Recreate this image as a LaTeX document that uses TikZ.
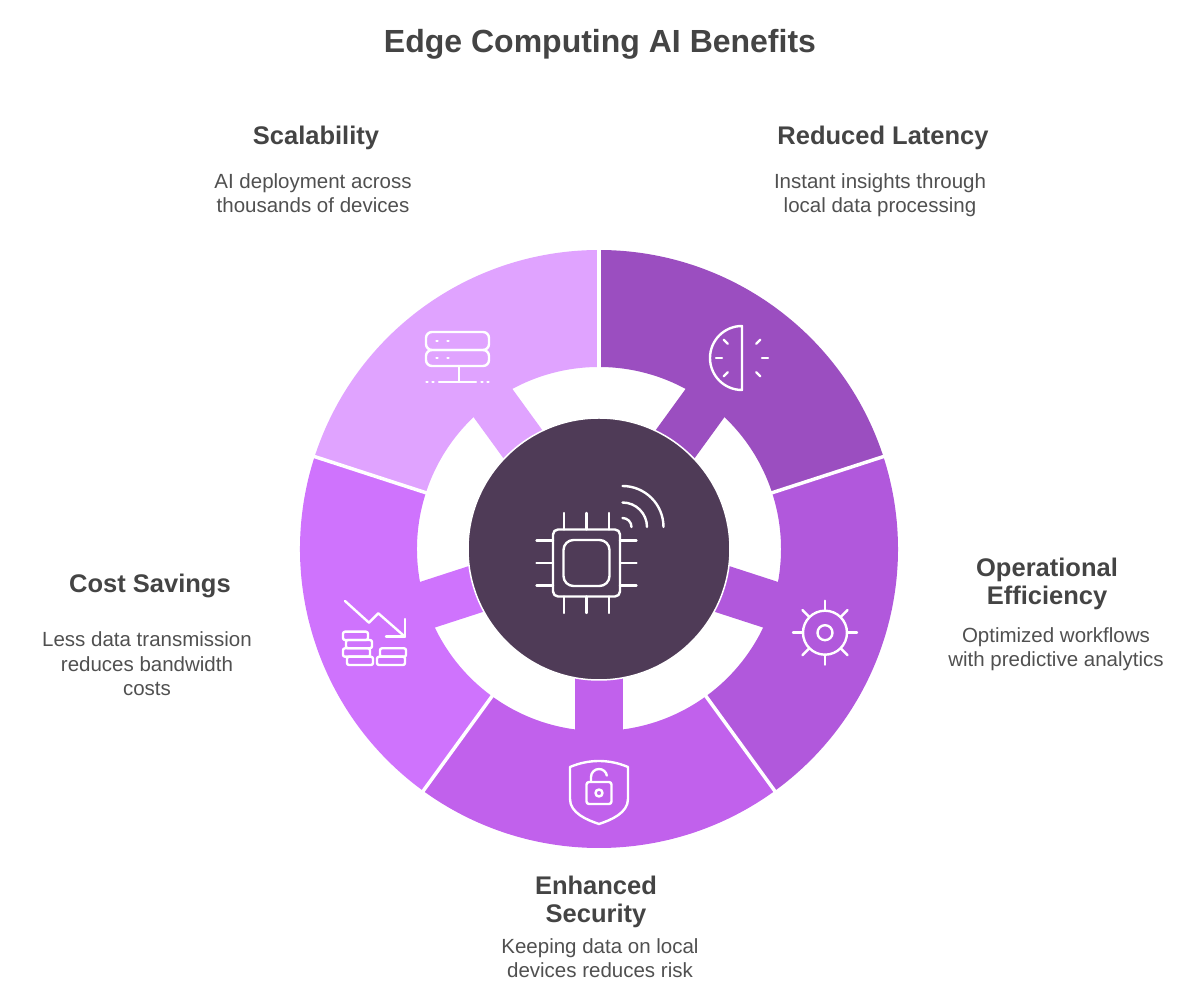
\documentclass[tikz,border=0pt]{standalone}
\usepackage{fontspec}
\setmainfont{Liberation Sans}
\usetikzlibrary{positioning}

\definecolor{latency}{HTML}{9B4EC0}
\definecolor{operation}{HTML}{B158DC}
\definecolor{security}{HTML}{C161EC}
\definecolor{savings}{HTML}{CF73FD}
\definecolor{scalab}{HTML}{E0A3FF}
\definecolor{core}{HTML}{4F3B57}
\definecolor{ink}{HTML}{444444}
\definecolor{inklight}{HTML}{505050}

\begin{document}
\begin{tikzpicture}[x=1pt,y=1pt,
  maintitle/.style={font=\bfseries\fontsize{32}{38}\selectfont, text=ink, inner sep=0pt, anchor=base},
  benefit/.style={font=\bfseries\fontsize{25.5}{28.5}\selectfont, text=ink, align=center, inner sep=0pt, anchor=base},
  blurb/.style={font=\fontsize{20.5}{24.5}\selectfont, text=inklight, align=center, inner sep=0pt, anchor=base},
  icon/.style={draw=white, line width=2.4pt, line cap=round, line join=round},
  divider/.style={draw=white, line width=3.5pt}]

  \useasboundingbox (-599,-451) rectangle (601,549);

% define the ring segments and their tabs
  \foreach \a/\c in {18/latency, -54/operation, -126/security, 162/savings, 90/scalab} {
    \fill[\c] (\a:182pt) arc[start angle=\a, end angle=\a+72, radius=182pt]
      -- (\a+72:299pt) arc[start angle=\a+72, end angle=\a, radius=299pt] -- cycle;
    \fill[\c, rotate=\a+36] (120,-24) rectangle (184,24);
  }
  \foreach \a in {18,-54,-126,162,90}
    \draw[divider] (\a:180pt) -- (\a:301pt);

% define the hub
  \node[circle, fill=core, draw=white, line width=1.5pt, minimum size=262pt, inner sep=0pt] (hub) at (0,0) {};

% chip with signal
  \begin{scope}[shift={(-12.5,-14)}]
    \draw[icon, rounded corners=5pt] (-33.5,-33.5) rectangle (33.5,33.5);
    \draw[icon, rounded corners=10pt] (-23,-23) rectangle (23,23);
    \foreach \p in {-22.5,0,22.5} {
      \draw[icon] (\p,33.5) -- (\p,50);
      \draw[icon] (\p,-33.5) -- (\p,-50);
      \draw[icon] (-33.5,\p) -- (-50,\p);
      \draw[icon] (33.5,\p) -- (50,\p);
    }
  \end{scope}
  \foreach \r in {9,24.5,41}
    \draw[icon] (23.5,22+\r) arc[start angle=90, end angle=0, radius=\r pt];

% server rack
  \draw[icon, rounded corners=6pt] (-173,199) rectangle (-110,217);
  \draw[icon, rounded corners=6pt] (-173,183) rectangle (-110,199);
  \foreach \x in {-162,-151} {
    \draw[icon] (\x-0.6,208) -- (\x+0.6,208);
    \draw[icon] (\x-0.6,191) -- (\x+0.6,191);
  }
  \draw[icon] (-140,183) -- (-140,167);
  \draw[icon] (-160,167) -- (-123,167);
  \foreach \x in {-172,-166,-117,-111}
    \draw[icon] (\x-0.6,167) -- (\x+0.6,167);

% stopwatch
  \draw[icon] (143,223) arc[start angle=90, end angle=270, radius=32pt] -- cycle;
  \foreach \t in {0,45,135,180,225,315}
    \draw[icon] ([shift={(\t:20pt)}]143,191) -- ([shift={(\t:26pt)}]143,191);

% gear
  \draw[icon] (226,-83.7) circle (22pt);
  \draw[icon] (226,-83.7) circle (7.5pt);
  \foreach \t in {0,45,...,315}
    \draw[icon] ([shift={(\t:22pt)}]226,-83.7) -- ([shift={(\t:32pt)}]226,-83.7);

% shield with open lock
  \draw[icon] (-29,-218) .. controls (-10,-210) and (10,-210) .. (29,-218)
    -- (29,-250) .. controls (29,-264) and (12,-271) .. (0,-275)
    .. controls (-12,-271) and (-29,-264) .. (-29,-250) -- cycle;
  \draw[icon, rounded corners=2.5pt] (-12.5,-255) rectangle (12.5,-233);
  \draw[icon] (0,-244) circle (3.5pt);
  \draw[icon] (-8,-233) -- (-8,-228) arc[start angle=180, end angle=10, radius=8pt];

% coins and falling trend
  \draw[icon] (-254,-52) -- (-230,-73.7) -- (-220.7,-64.3) -- (-194,-87.7);
  \draw[icon] (-194,-70) -- (-194,-87.7) -- (-213,-87.7);
  \draw[icon, rounded corners=2pt] (-256,-91) rectangle (-231,-82.7);
  \draw[icon, rounded corners=2pt] (-253,-99.3) rectangle (-227,-91);
  \draw[icon, rounded corners=2pt] (-256,-107.7) rectangle (-229,-99.3);
  \draw[icon, rounded corners=2pt] (-252,-116) rectangle (-226,-107.7);
  \draw[icon, rounded corners=2pt] (-219,-107.7) rectangle (-193,-99.3);
  \draw[icon, rounded corners=2pt] (-222,-116) rectangle (-194,-107.7);

% define the labels (multi-line nodes sit on their last baseline)
  \node[maintitle] (title) at (1,496) {Edge Computing AI Benefits};

  \node[benefit] (scal) at (-283,404) {Scalability};
  \node[blurb]   (scaltext) at (-286,336) {AI deployment across\\thousands of devices};

  \node[benefit] (lat) at (284,404) {Reduced Latency};
  \node[blurb]   (lattext) at (281,336) {Instant insights through\\local data processing};

  \node[benefit] (cost) at (-449,-44) {Cost Savings};
  \node[blurb]   (costtext) at (-452,-147) {Less data transmission\\reduces bandwidth\\costs};

  \node[benefit] (oper) at (448,-56) {Operational\\Efficiency};
  \node[blurb]   (opertext) at (457,-118) {Optimized workflows\\with predictive analytics};

  \node[benefit] (secu) at (-3,-374) {Enhanced\\Security};
  \node[blurb]   (secutext) at (1,-429) {Keeping data on local\\devices reduces risk};

\end{tikzpicture}
\end{document}
